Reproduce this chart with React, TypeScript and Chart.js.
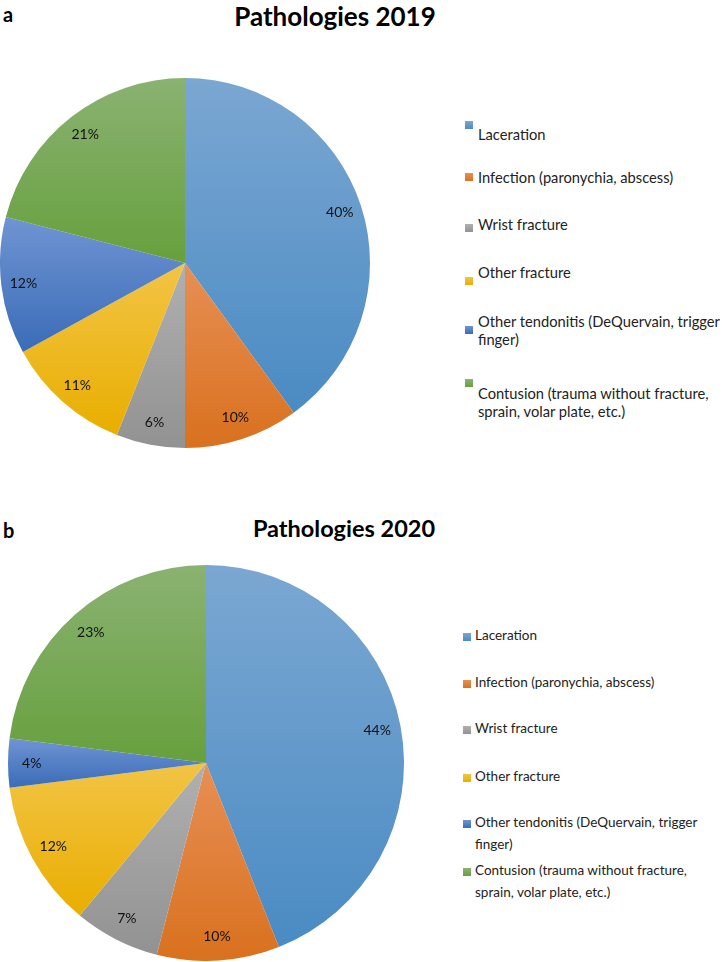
import React, { useEffect, useRef } from "react";
import { Chart, registerables } from "chart.js";

Chart.register(...registerables);

// ---------- data ----------
const categories = [
  "Laceration",
  "Infection (paronychia, abscess)",
  "Wrist fracture",
  "Other fracture",
  "Other tendonitis (DeQuervain, trigger finger)",
  "Contusion (trauma without fracture, sprain, volar plate, etc.)",
];
const legendLines = [
  ["Laceration"],
  ["Infection (paronychia, abscess)"],
  ["Wrist fracture"],
  ["Other fracture"],
  ["Other tendonitis (DeQuervain, trigger", "finger)"],
  ["Contusion (trauma without fracture,", "sprain, volar plate, etc.)"],
];
const values2019 = [40, 10, 6, 11, 12, 21];
const values2020 = [44, 10, 7, 12, 4, 23];
const title2019 = "Pathologies 2019";
const title2020 = "Pathologies 2020";
const panelA = "a";
const panelB = "b";

// ---------- styles ----------
const lightColors = ["#7ba7d2", "#e78f55", "#b0b0b0", "#f2c445", "#7094d3", "#8ab272"];
const darkColors = ["#4a8bc3", "#d9711e", "#929292", "#e9ae00", "#3a6cb7", "#67a03d"];
const boxColors = ["#5b9bd5", "#ed7d31", "#a5a5a5", "#ffc000", "#4472c4", "#70ad47"];
const FONT = "Lato, 'Open Sans', sans-serif";

function sliceGradient(ctx: any, values: number[], i: number) {
  const chart = ctx.chart;
  const area = chart.chartArea;
  if (!area) return boxColors[i];
  const cx = (area.left + area.right) / 2;
  const cy = (area.top + area.bottom) / 2;
  const r = Math.min(area.right - area.left, area.bottom - area.top) / 2;
  const total = values.reduce((a, b) => a + b, 0);
  let acc = 0;
  for (let k = 0; k < i; k++) acc += values[k];
  const a0 = -Math.PI / 2 + (acc / total) * 2 * Math.PI;
  const a1 = a0 + (values[i] / total) * 2 * Math.PI;
  const ys = [cy, cy + r * Math.sin(a0), cy + r * Math.sin(a1)];
  const contains = (ang: number) => {
    for (let k = -1; k <= 2; k++) {
      const t = ang + k * 2 * Math.PI;
      if (t >= a0 - 1e-6 && t <= a1 + 1e-6) return true;
    }
    return false;
  };
  if (contains(-Math.PI / 2)) ys.push(cy - r);
  if (contains(Math.PI / 2)) ys.push(cy + r);
  const y0 = Math.min(...ys);
  const y1 = Math.max(...ys);
  const g = chart.ctx.createLinearGradient(0, y0, 0, y1 + 0.001);
  g.addColorStop(0, lightColors[i]);
  g.addColorStop(1, darkColors[i]);
  return g;
}

const pctLabels = {
  id: "pctLabels",
  afterDatasetsDraw(chart: any, _args: any, opts: any) {
    const { ctx } = chart;
    const meta = chart.getDatasetMeta(0);
    const data = chart.data.datasets[0].data;
    ctx.save();
    ctx.font = opts.font;
    ctx.fillStyle = opts.color;
    ctx.textAlign = "center";
    ctx.textBaseline = "middle";
    meta.data.forEach((arc: any, i: number) => {
      const { x, y, startAngle, endAngle, outerRadius } = arc.getProps(
        ["x", "y", "startAngle", "endAngle", "outerRadius"],
        true
      );
      const mid = (startAngle + endAngle) / 2;
      const d = outerRadius * opts.radiusFactor;
      ctx.fillText(`${data[i]}%`, x + Math.cos(mid) * d, y + Math.sin(mid) * d);
    });
    ctx.restore();
  },
};

function PieCanvas({ values, size, labelFont }: { values: number[]; size: number; labelFont: string }) {
  const ref = useRef<HTMLCanvasElement | null>(null);
  useEffect(() => {
    if (!ref.current) return;
    const chart = new Chart(ref.current, {
      type: "pie",
      data: {
        labels: categories,
        datasets: [
          {
            data: values,
            backgroundColor: (ctx: any) => sliceGradient(ctx, values, ctx.dataIndex),
            borderWidth: 0,
            hoverOffset: 0,
          },
        ],
      },
      options: {
        responsive: false,
        animation: false,
        layout: { padding: 0 },
        events: [],
        plugins: {
          legend: { display: false },
          tooltip: { enabled: false },
          title: { display: false },
          pctLabels: { font: labelFont, color: "#111", radiusFactor: 0.88 },
        } as any,
      },
      plugins: [pctLabels as any],
    });
    return () => chart.destroy();
  }, [values, size, labelFont]);
  return <canvas ref={ref} width={size} height={size} style={{ display: "block", width: size, height: size }} />;
}

type PanelCfg = {
  panel: string;
  title: string;
  values: number[];
  letterY: number;
  titleX: number;
  titleY: number;
  titleSize: number;
  pieLeft: number;
  pieTop: number;
  pieSize: number;
  labelFont: string;
  boxLeft: number;
  textLeft: number;
  legendFont: number;
  lineHeight: number;
  itemY: number[];
  boxDy: number[];
};

function Panel({ cfg }: { cfg: PanelCfg }) {
  return (
    <>
      <div
        style={{
          position: "absolute",
          left: 3,
          top: cfg.letterY - 14,
          height: 28,
          lineHeight: "28px",
          fontFamily: FONT,
          fontWeight: 700,
          fontSize: 20,
          color: "#000",
        }}
      >
        {cfg.panel}
      </div>
      <div
        style={{
          position: "absolute",
          left: cfg.titleX - 200,
          width: 400,
          top: cfg.titleY - 20,
          height: 40,
          lineHeight: "40px",
          textAlign: "center",
          fontFamily: FONT,
          fontWeight: 700,
          fontSize: cfg.titleSize,
          color: "#000",
          whiteSpace: "nowrap",
        }}
      >
        {cfg.title}
      </div>
      <div style={{ position: "absolute", left: cfg.pieLeft, top: cfg.pieTop }}>
        <PieCanvas values={cfg.values} size={cfg.pieSize} labelFont={cfg.labelFont} />
      </div>
      {legendLines.map((lines, i) => (
        <React.Fragment key={i}>
          <div
            style={{
              position: "absolute",
              left: cfg.boxLeft,
              top: cfg.itemY[i] + cfg.boxDy[i] - 4,
              width: 8,
              height: 8,
              background: `linear-gradient(${lightColors[i]}, ${darkColors[i]})`,
            }}
          />
          <div
            style={{
              position: "absolute",
              left: cfg.textLeft,
              top: cfg.itemY[i] - cfg.lineHeight / 2,
              fontFamily: FONT,
              fontSize: cfg.legendFont,
              lineHeight: `${cfg.lineHeight}px`,
              color: "#222",
              whiteSpace: "nowrap",
            }}
          >
            {lines.map((l, j) => (
              <div key={j}>{l}</div>
            ))}
          </div>
        </React.Fragment>
      ))}
    </>
  );
}

const cfgA: PanelCfg = {
  panel: panelA,
  title: title2019,
  values: values2019,
  letterY: 14,
  titleX: 335,
  titleY: 16,
  titleSize: 26,
  pieLeft: 0,
  pieTop: 78,
  pieSize: 370,
  labelFont: `14px ${FONT}`,
  boxLeft: 465,
  textLeft: 478,
  legendFont: 14.7,
  lineHeight: 18,
  itemY: [134, 177, 224, 272, 321, 393],
  boxDy: [-9, 0, 4, 9, 9, -10],
};

const cfgB: PanelCfg = {
  panel: panelB,
  title: title2020,
  values: values2020,
  letterY: 530,
  titleX: 344,
  titleY: 528,
  titleSize: 23.5,
  pieLeft: 8,
  pieTop: 565,
  pieSize: 396,
  labelFont: `14px ${FONT}`,
  boxLeft: 463,
  textLeft: 475,
  legendFont: 13.5,
  lineHeight: 22,
  itemY: [635, 682, 728, 776, 822, 870],
  boxDy: [2, 2, 2, 2, 2, 2],
};

export default function App() {
  return (
    <div
      style={{
        position: "absolute",
        left: 0,
        top: 0,
        width: 722,
        height: 962,
        background: "#fff",
        overflow: "hidden",
      }}
    >
      <Panel cfg={cfgA} />
      <Panel cfg={cfgB} />
    </div>
  );
}
